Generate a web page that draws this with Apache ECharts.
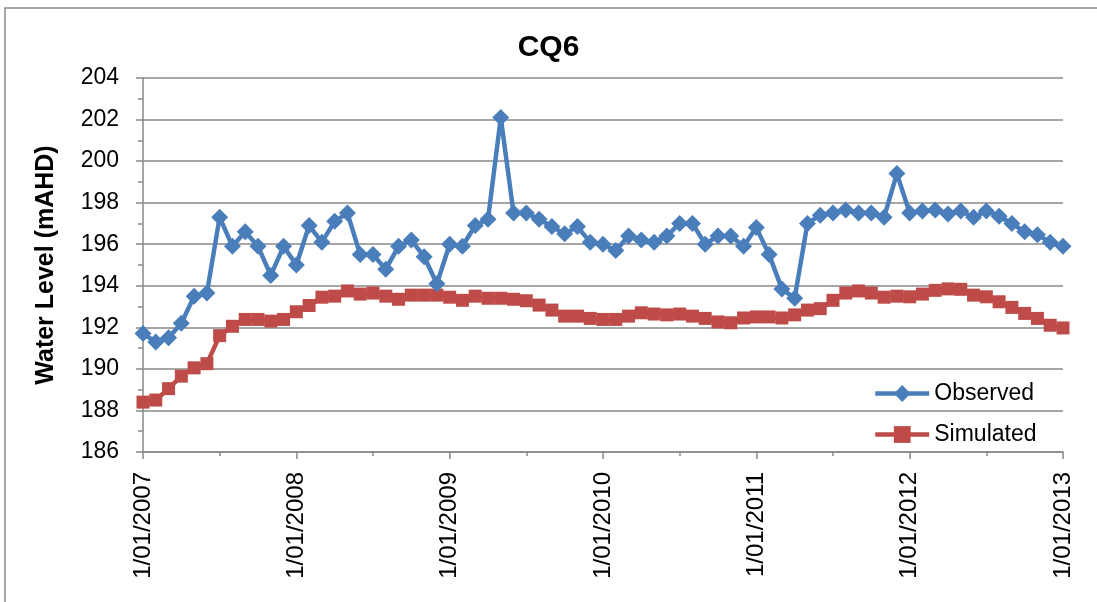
<!DOCTYPE html>
<html>
<head>
<meta charset="utf-8">
<script src="https://cdn.jsdelivr.net/npm/echarts@6/dist/echarts.min.js"></script>
<style>
  html, body { margin: 0; padding: 0; background: #fff; }
  #chart { width: 1097px; height: 602px; }
</style>
</head>
<body>
<div id="chart"></div>
<script>
// monthly readings, Jan 2007 .. Jan 2013
const years = [2007, 2008, 2009, 2010, 2011, 2012, 2013]
const observed = [
  191.7, 191.3, 191.5, 192.2, 193.5, 193.65, 197.3, 195.9, 196.6, 195.9, 194.5, 195.9,
  195.0, 196.9, 196.1, 197.1, 197.5, 195.5, 195.5, 194.8, 195.9, 196.2, 195.4, 194.1,
  196.0, 195.9, 196.9, 197.2, 202.1, 197.5, 197.5, 197.2, 196.85, 196.5, 196.85, 196.1,
  196.0, 195.7, 196.4, 196.2, 196.1, 196.4, 197.0, 197.0, 196.0, 196.4, 196.4, 195.9,
  196.8, 195.5, 193.85, 193.4, 197.0, 197.4, 197.5, 197.65, 197.5, 197.5, 197.3, 199.4,
  197.5, 197.6, 197.65, 197.45, 197.6, 197.3, 197.6, 197.35, 197.0, 196.6, 196.45, 196.1,
  195.9
]
const simulated = [
  188.4, 188.5, 189.05, 189.65, 190.05, 190.25, 191.6, 192.05, 192.38, 192.38, 192.3, 192.38,
  192.75, 193.05, 193.45, 193.5, 193.75, 193.6, 193.65, 193.5, 193.35, 193.55, 193.55, 193.55,
  193.45, 193.3, 193.5, 193.4, 193.4, 193.35, 193.28, 193.07, 192.83, 192.54, 192.54, 192.43,
  192.38, 192.38, 192.54, 192.7, 192.64, 192.6, 192.64, 192.54, 192.43, 192.26, 192.22, 192.45,
  192.5, 192.5, 192.45, 192.6, 192.83, 192.9, 193.3, 193.65, 193.75, 193.65, 193.45, 193.5,
  193.47, 193.6, 193.78, 193.85, 193.83, 193.55, 193.47, 193.23, 192.96, 192.67, 192.43, 192.1,
  191.97
]
const yTicks = { min: 186, max: 204, step: 2 }

const categories = []
years.forEach((y, i) => {
  const last = i === years.length - 1
  for (let m = 1; m <= (last ? 1 : 12); m++) {
    categories.push('1/' + String(m).padStart(2, '0') + '/' + y)
  }
})

const gray = '#898989'
const chart = echarts.init(document.getElementById('chart'))
chart.setOption({
  animation: false,
  textStyle: { fontFamily: 'Liberation Sans' },
  title: {
    text: 'CQ6',
    left: 'center',
    top: 28,
    textStyle: { fontSize: 30, fontWeight: 'bold', color: '#000', fontFamily: 'Liberation Sans' }
  },
  graphic: [{
    type: 'rect',
    shape: { x: 5, y: 8, width: 1200, height: 700 },
    style: { fill: 'none', stroke: gray, lineWidth: 1.5 },
    silent: true
  }],
  legend: {
    orient: 'vertical',
    left: 868,
    top: 377,
    itemWidth: 54,
    itemHeight: 21,
    itemGap: 18,
    data: ['Observed', 'Simulated'],
    lineStyle: { width: 4.5 },
    textStyle: { fontSize: 23, color: '#000' }
  },
  grid: { left: 143, right: 34, top: 78, bottom: 150 },
  xAxis: [
    {
      type: 'category',
      data: categories,
      boundaryGap: false,
      axisLine: { lineStyle: { color: gray, width: 1.5 } },
      axisTick: { length: 7, interval: i => i % 12 === 0, lineStyle: { color: gray, width: 1.5 } },
      axisLabel: {
        interval: i => i % 12 === 0,
        rotate: 90,
        margin: 20,
        fontSize: 24,
        color: '#000'
      },
      splitLine: { show: false }
    },
    {
      type: 'category',
      data: categories,
      boundaryGap: false,
      position: 'bottom',
      axisLine: { show: false },
      axisTick: { length: 4, interval: i => i % 6 === 0, lineStyle: { color: gray, width: 1.5 } },
      axisLabel: { show: false },
      splitLine: { show: false }
    }
  ],
  yAxis: {
    type: 'value',
    min: yTicks.min,
    max: yTicks.max,
    interval: yTicks.step,
    name: 'Water Level (mAHD)',
    nameLocation: 'middle',
    nameGap: 84,
    nameTextStyle: { fontSize: 25, fontWeight: 'bold', color: '#000' },
    axisLine: { show: true, lineStyle: { color: gray, width: 1.5 } },
    axisTick: { show: true, length: 7, lineStyle: { color: gray, width: 1.5 } },
    minorTick: { show: true, splitNumber: 2, length: 5, lineStyle: { color: gray, width: 1.5 } },
    axisLabel: { margin: 24, fontSize: 23, color: '#000' },
    splitLine: { lineStyle: { color: gray, width: 1.5 } }
  },
  series: [
    {
      name: 'Observed',
      type: 'line',
      data: observed,
      symbol: 'diamond',
      symbolSize: 17,
      showAllSymbol: true,
      lineStyle: { color: '#4A7EBB', width: 4.5 },
      itemStyle: { color: '#4A7EBB' },
      z: 3
    },
    {
      name: 'Simulated',
      type: 'line',
      data: simulated,
      symbol: 'rect',
      symbolSize: 13,
      showAllSymbol: true,
      lineStyle: { color: '#BE4B48', width: 4.5 },
      itemStyle: { color: '#BE4B48' },
      z: 2
    }
  ]
})
</script>
</body>
</html>
